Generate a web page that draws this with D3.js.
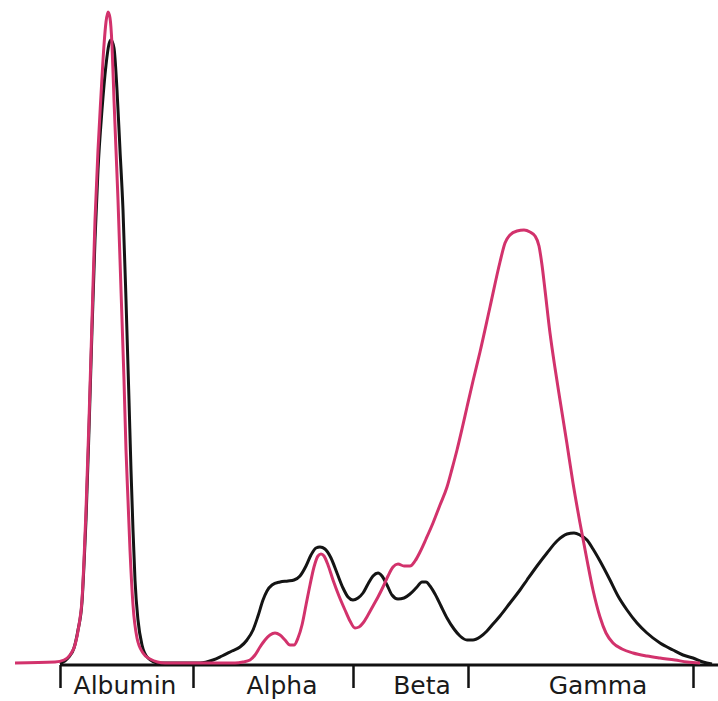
<!DOCTYPE html>
<html>
<head>
<meta charset="utf-8">
<script src="https://cdn.jsdelivr.net/npm/d3@7/dist/d3.min.js"></script>
<style>
  body { margin: 0; background: #fff; }
  .label { font-family: "DejaVu Sans", sans-serif; font-size: 25px; fill: #1a1a1a; }
</style>
</head>
<body>
<div class="chart"></div>
<script>
var svgWidth = 718;
var svgHeight = 701;

// fraction zones along the strip
var zoneNames = ["Albumin", "Alpha", "Beta", "Gamma"];
var zoneCenters = [125, 282, 422, 598];
var zoneBounds = [60, 193, 353, 468, 693];

// normal serum trace [migration, absorbance]
var normalCurve = [
  [60,0],[68,6],[74,16],[78,34],[82,62],[84,99],[86,144],[89,234],[92,334],[95,424],
  [98,494],[102,554],[106,599],[109,620],[111,624],[114,616],[117,574],[120,514],[123,454],
  [126,364],[129,264],[131,194],[133,134],[135,84],[138,44],[142,19],[148,6],[158,1],
  [200,1],[213,4],[222,8],[232,13],[240,17],[247,24],[253,34],[258,48],[263,64],[267,73],
  [272,79],[280,82],[288,83],[294,84],[300,88],[306,98],[311,109],[316,116],[320,117],
  [325,115],[331,106],[337,91],[343,76],[348,67],[353,64],[358,66],[363,71],[368,80],
  [373,88],[378,91],[382,88],[387,79],[392,69],[398,65],[404,66],[410,70],[417,77],
  [422,82],[426,82],[430,78],[435,70],[441,58],[447,46],[454,35],[460,28],[467,24],
  [473,24],[480,27],[487,33],[493,40],[500,48],[510,61],[520,74],[527,84],[537,98],
  [547,111],[557,123],[567,130],[574,131],[580,129],[587,124],[593,115],[600,103],
  [610,84],[618,68],[627,54],[637,41],[647,31],[660,21],[673,14],[683,9],[693,6],
  [703,2],[712,0]
];

// patient trace [migration, absorbance]
var patientCurve = [
  [15,1],[55,2],[64,4],[70,9],[75,19],[79,39],[82,64],[84,104],[86,154],[89,244],
  [92,344],[95,444],[98,514],[101,569],[104,619],[106,642],[108,652],[110,646],[112,619],
  [114,564],[116,514],[118,464],[121,374],[124,284],[126,214],[128,164],[130,114],
  [133,59],[137,26],[143,11],[150,5],[165,1],[235,1],[243,2],[250,4],[255,9],[260,17],
  [265,24],[270,29],[275,31],[280,29],[285,24],[290,19],[294,19],[298,26],[302,39],
  [306,59],[310,79],[314,97],[318,108],[321,110],[324,108],[328,99],[333,84],[339,68],
  [345,54],[350,43],[355,36],[359,37],[363,41],[368,49],[373,58],[378,67],[383,77],
  [388,88],[393,97],[398,100],[404,98],[410,98],[415,103],[420,112],[426,125],
  [433,141],[440,159],[447,177],[452,195],[457,214],[462,235],[467,257],[473,283],
  [480,312],[490,357],[500,402],[505,421],[510,429],[517,433],[524,434],[530,432],
  [535,428],[539,418],[542,399],[545,374],[550,331],[555,296],[560,264],[567,220],
  [573,181],[580,141],[587,104],[593,74],[600,47],[606,31],[613,21],[622,15],[633,11],
  [647,8],[660,6],[675,4],[687,2],[700,1]
];

var svg = d3.select(".chart")
  .append("svg")
  .attr("width", svgWidth)
  .attr("height", svgHeight);

var xScale = d3.scaleLinear().domain([0, 718]).range([0, 718]);
var yScale = d3.scaleLinear().domain([0, 652]).range([664, 12]);

// axis line + zone ticks
svg.append("line")
  .attr("x1", xScale(60))
  .attr("x2", xScale(718))
  .attr("y1", yScale(0) + 1)
  .attr("y2", yScale(0) + 1)
  .attr("stroke", "#111")
  .attr("stroke-width", 3);

var bottomAxis = d3.axisBottom(xScale)
  .tickValues(zoneBounds)
  .tickSize(23)
  .tickFormat("");

var axisG = svg.append("g")
  .attr("transform", "translate(0," + (yScale(0) + 1) + ")")
  .call(bottomAxis);
axisG.select(".domain").remove();
axisG.selectAll(".tick line")
  .attr("stroke", "#111")
  .attr("stroke-width", 2.5);

var line = d3.line()
  .x(function(d) { return xScale(d[0]); })
  .y(function(d) { return yScale(d[1]); })
  .curve(d3.curveMonotoneX);

svg.append("path")
  .datum(normalCurve)
  .attr("d", line)
  .attr("fill", "none")
  .attr("stroke", "#141414")
  .attr("stroke-width", 3)
  .attr("stroke-linejoin", "round");

svg.append("path")
  .datum(patientCurve)
  .attr("d", line)
  .attr("fill", "none")
  .attr("stroke", "#d2326c")
  .attr("stroke-width", 3)
  .attr("stroke-linejoin", "round");

svg.selectAll(".label")
  .data(zoneNames)
  .enter()
  .append("text")
  .attr("class", "label")
  .attr("x", function(d, i) { return xScale(zoneCenters[i]); })
  .attr("y", 694)
  .attr("text-anchor", "middle")
  .text(function(d) { return d; });
</script>
</body>
</html>
